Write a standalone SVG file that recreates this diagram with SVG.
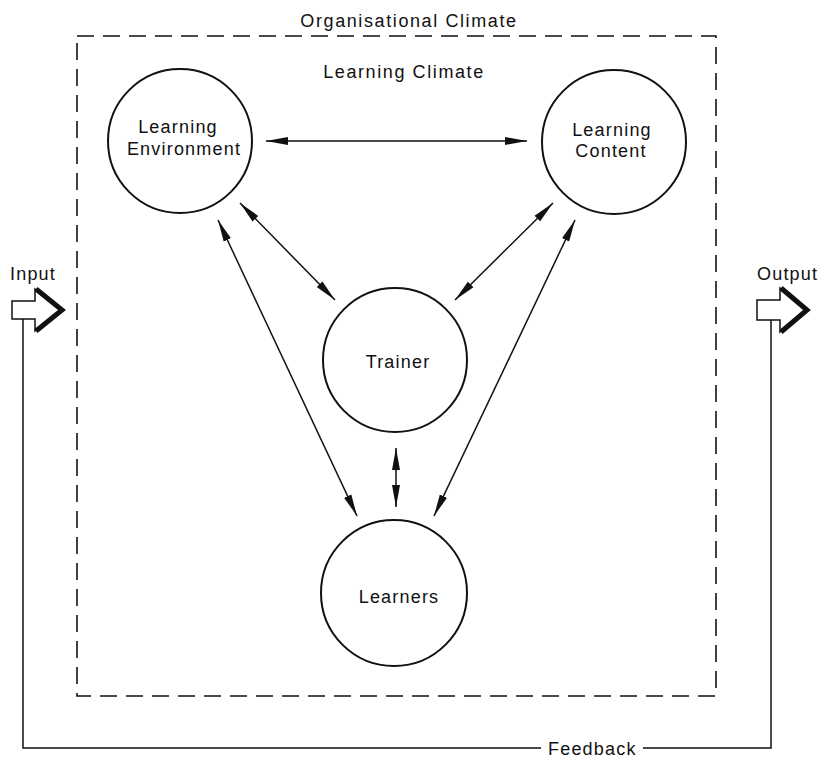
<svg xmlns="http://www.w3.org/2000/svg" width="822" height="759" viewBox="0 0 822 759">
<style>
  .txt { font-family: "Liberation Sans", Arial, sans-serif; font-size: 18px; fill: #111; letter-spacing: 1.2px; }
  .head { letter-spacing: 1.6px; }
  .node circle { fill: #fff; stroke: #111; stroke-width: 2; }
  .conn line { stroke: #111; stroke-width: 1.5; fill: none; }
  .frame { fill: none; stroke: #111; stroke-width: 1.6; stroke-dasharray: 17 9; }
  .fb { fill: none; stroke: #111; stroke-width: 1.5; }
</style>
<defs>
  <marker id="ah" viewBox="0 -5 22 10" refX="22" refY="0" markerWidth="22" markerHeight="10" markerUnits="userSpaceOnUse" orient="auto-start-reverse">
    <path d="M0,-4 L22,0 L0,4 Z" fill="#111"/>
  </marker>
</defs>
<rect class="frame" x="77" y="36" width="639" height="660"/>
<text class="txt head" x="409" y="27" text-anchor="middle">Organisational Climate</text>
<text class="txt head" x="404" y="78" text-anchor="middle">Learning Climate</text>

<g id="node-learning-environment" class="node">
  <circle cx="180" cy="141" r="72"/>
  <text class="txt" x="178" y="133" text-anchor="middle" font-size="19">Learning</text>
  <text class="txt" x="184" y="155" text-anchor="middle" font-size="19">Environment</text>
</g>
<g id="node-learning-content" class="node">
  <circle cx="614" cy="142" r="72"/>
  <text class="txt" x="612" y="136" text-anchor="middle" font-size="19">Learning</text>
  <text class="txt" x="611" y="157" text-anchor="middle" font-size="19">Content</text>
</g>
<g id="node-trainer" class="node">
  <circle cx="395" cy="360" r="72"/>
  <text class="txt" x="398" y="368" text-anchor="middle" font-size="19">Trainer</text>
</g>
<g id="node-learners" class="node">
  <circle cx="394" cy="593" r="73"/>
  <text class="txt" x="399" y="603" text-anchor="middle" font-size="19">Learners</text>
</g>

<g id="connectors" class="conn">
  <line x1="266" y1="141" x2="527" y2="141" marker-start="url(#ah)" marker-end="url(#ah)"/>
  <line x1="240" y1="203" x2="335" y2="300" marker-start="url(#ah)" marker-end="url(#ah)"/>
  <line x1="553" y1="203" x2="455" y2="300" marker-start="url(#ah)" marker-end="url(#ah)"/>
  <line x1="218" y1="220" x2="357" y2="516" marker-start="url(#ah)" marker-end="url(#ah)"/>
  <line x1="575" y1="220" x2="434" y2="516" marker-start="url(#ah)" marker-end="url(#ah)"/>
  <line x1="396" y1="448" x2="396" y2="507" marker-start="url(#ah)" marker-end="url(#ah)"/>
</g>

<g id="node-input">
  <text class="txt" x="10" y="280" font-size="16" letter-spacing="0.8">Input</text>
  <path d="M12,301 L35,301 L35,289 L63,310 L35,331 L35,319 L12,319 Z" fill="#fff" stroke="#111" stroke-width="1.5"/>
  <path d="M36,289 L62,310 L36,331" fill="none" stroke="#111" stroke-width="5" stroke-linejoin="miter"/>
</g>
<g id="node-output">
  <text class="txt" x="757" y="280" font-size="16" letter-spacing="0.8">Output</text>
  <path d="M757,300 L780,300 L780,288 L808,310 L780,332 L780,320 L757,320 Z" fill="#fff" stroke="#111" stroke-width="1.5"/>
  <path d="M781,288 L807,310 L781,332" fill="none" stroke="#111" stroke-width="5" stroke-linejoin="miter"/>
</g>

<g id="feedback">
  <polyline class="fb" points="23,319 23,748 541,748"/>
  <polyline class="fb" points="643,748 771,748 771,320"/>
  <text class="txt" x="548" y="755">Feedback</text>
</g>
</svg>
